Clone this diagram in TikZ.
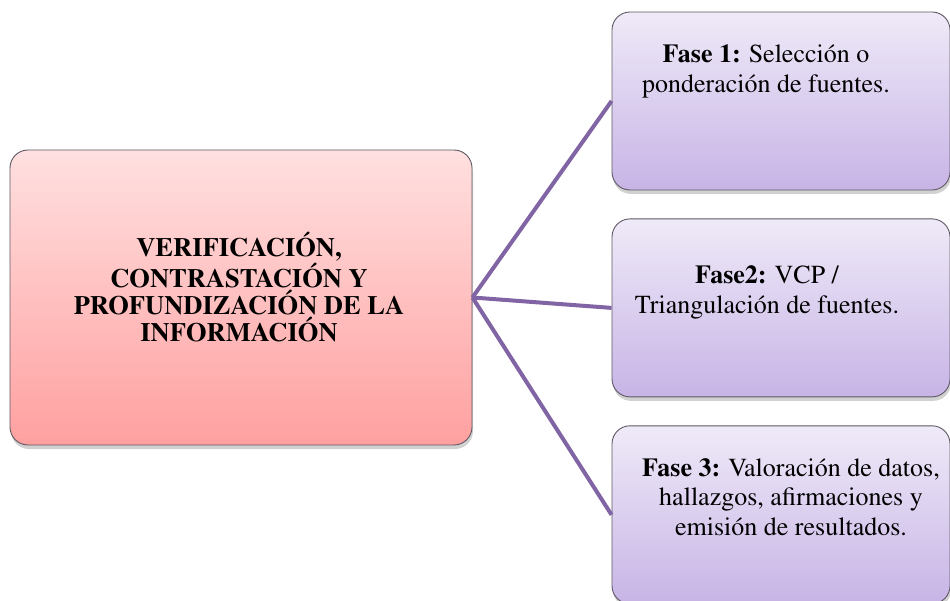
\documentclass[tikz,border=0pt]{standalone}
\usepackage[T1]{fontenc}
\usepackage{times}
\usepackage{tikz}
\usetikzlibrary{shapes,positioning,calc,shadows}
\definecolor{rosaTop}{RGB}{255,224,224}
\definecolor{rosaBot}{RGB}{255,160,160}
\definecolor{lilaTop}{RGB}{239,234,248}
\definecolor{lilaBot}{RGB}{199,180,230}
\definecolor{lila}{RGB}{128,100,163}
\definecolor{borde}{RGB}{95,88,100}
\tikzset{
	caja/.style={rounded corners=18pt, draw=borde, line width=0.9pt, inner sep=0pt,
		drop shadow={shadow xshift=1pt, shadow yshift=-4pt, opacity=0.3, fill=black!60}}, % common look of the boxes
	principal/.style={caja, top color=rosaTop, bottom color=rosaBot,
		minimum width=462pt, minimum height=295pt}, % the big pink box
	fase/.style={caja, top color=lilaTop, bottom color=lilaBot,
		minimum width=338pt, minimum height=178pt}, % the three purple boxes
	texto/.style={align=center, inner sep=0pt, font=\fontsize{26}{29.5}\selectfont}, % text of the phases
	rama/.style={draw=lila, line width=4pt}, % the connectors
}

\begin{document}
\begin{tikzpicture}[x=1pt,y=-1pt]
	\useasboundingbox (0,0) rectangle (950,601);
	\node[principal] (VERIF) at (241,297.5) {};
	\node[fase] (FASE1) at (781,101) {};
	\node[fase, below=28pt of FASE1] (FASE2) {};
	\node[fase, below=28pt of FASE2] (FASE3) {};

	\draw[rama] (VERIF.east) -- (FASE1.west);
	\draw[rama] (VERIF.east) -- (FASE2.west);
	\draw[rama] (VERIF.east) -- (FASE3.west);

	\node[texto, font=\bfseries\fontsize{26.5}{27.3}\selectfont, below=82pt of VERIF.north, xshift=-2pt] (T0)
		{VERIFICACIÓN,\\CONTRASTACIÓN Y\\PROFUNDIZACIÓN DE LA\\INFORMACIÓN};
	\node[texto, below=33pt of FASE1.north, xshift=-15pt] (T1)
		{\textbf{Fase 1:} Selección o\\ponderación de fuentes.};
	\node[texto, below=47pt of FASE2.north, xshift=-14pt] (T2)
		{\textbf{Fase2:} VCP /\\Triangulación de fuentes.};
	\node[texto, below=33pt of FASE3.north, xshift=10pt] (T3)
		{\textbf{Fase 3:} Valoración de datos,\\hallazgos, afirmaciones y\\emisión de resultados.};
\end{tikzpicture}
\end{document}
